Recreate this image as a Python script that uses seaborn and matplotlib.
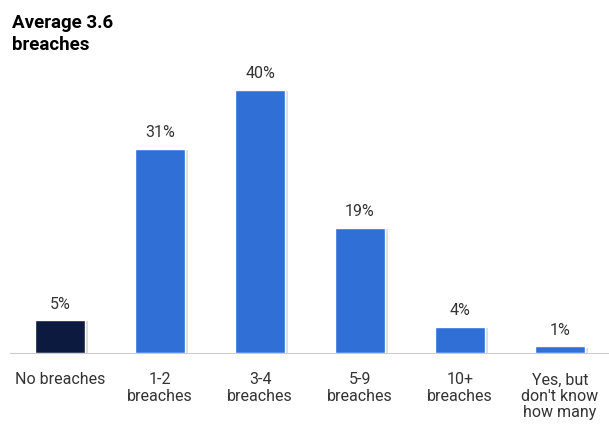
import matplotlib
matplotlib.use("Agg")
import matplotlib.pyplot as plt
import matplotlib.patheffects as pe
import seaborn as sns

categories = ["No breaches", "1-2\nbreaches", "3-4\nbreaches", "5-9\nbreaches",
              "10+\nbreaches", "Yes, but\ndon't know\nhow many"]
values = [5, 31, 40, 19, 4, 1]
colors = ["#0c1a3f", "#2f6fd6", "#2f6fd6", "#2f6fd6", "#2f6fd6", "#2f6fd6"]

sns.set_style("white")
plt.rcParams["font.family"] = ["Roboto", "DejaVu Sans"]

fig = plt.figure(figsize=(6.09, 4.34), dpi=100)
ax = fig.add_axes([10 / 609, 81 / 434, 600 / 609, 303 / 434])
sns.barplot(x=categories, y=values, hue=categories, palette=colors,
            width=0.5, saturation=1, legend=False, ax=ax)
for p in ax.patches:
    p.set_path_effects([pe.SimplePatchShadow(offset=(2, -1), alpha=0.15), pe.Normal()])
for i, v in enumerate(values):
    ax.text(i, v + 1.3, f"{v}%", ha="center", va="bottom", fontsize=11.5, color="#333333")

ax.set_xlim(-0.5, 5.5)
ax.set_ylim(0, 46)
ax.set_yticks([])
ax.set_xlabel("")
ax.set_ylabel("")
for s in ["top", "right", "left"]:
    ax.spines[s].set_visible(False)
ax.spines["bottom"].set_color("#cccccc")
ax.tick_params(axis="x", length=0, pad=14, labelsize=11.5, labelcolor="#333333")
for lbl in ax.get_xticklabels():
    lbl.set_verticalalignment("top")
    lbl.set_linespacing(1.1)

fig.text(12 / 609, 1 - 14 / 434, "Average 3.6\nbreaches", ha="left", va="top",
         fontsize=13.5, fontweight="bold", color="black", linespacing=1.3)

fig.savefig("out.png", dpi=100)
